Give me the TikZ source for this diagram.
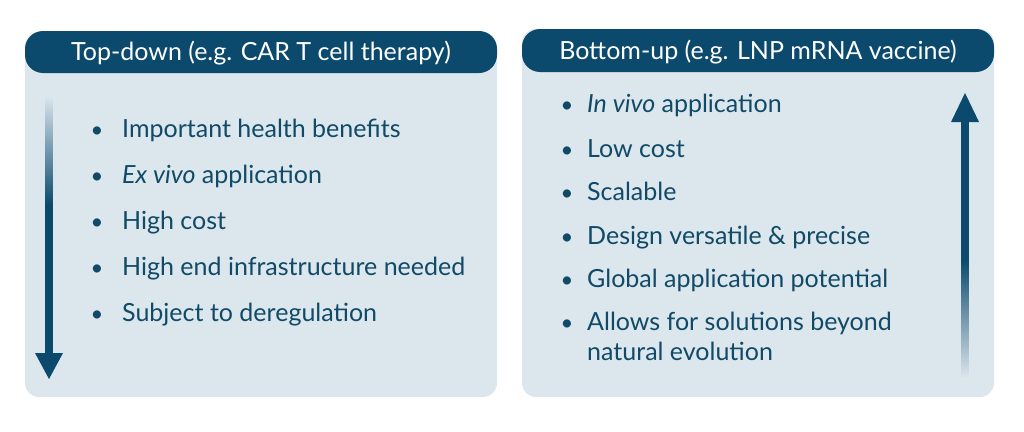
\documentclass[tikz,border=0pt]{standalone}
\usepackage{fontspec}
\setmainfont{Lato}
\definecolor{dark}{HTML}{0B4A6D}
\definecolor{panel}{HTML}{DCE6ED}
\definecolor{txt}{HTML}{104A66}
\pgfdeclareverticalshading{fadedown}{100bp}{color(0bp)=(dark); color(54bp)=(dark); color(75bp)=(panel); color(100bp)=(panel)}
\pgfdeclareverticalshading{fadeup}{100bp}{color(0bp)=(panel); color(25bp)=(panel); color(48bp)=(dark); color(100bp)=(dark)}
\begin{document}
\begin{tikzpicture}[x=1pt,y=-1pt,
  panelbox/.style={fill=panel,rounded corners=14pt,minimum width=472pt,inner sep=0pt},
  headbox/.style={fill=dark,rounded corners=18pt,minimum width=472pt,minimum height=42pt,inner sep=0pt},
  headtxt/.style={anchor=base,inner sep=0pt,text=white,font=\fontsize{25}{29}\selectfont},
  item/.style={anchor=base west,inner sep=0pt,text=txt,font=\fontsize{25}{29}\selectfont},
  bul/.style={anchor=base,inner sep=0pt,text=txt,font=\fontsize{22}{26}\selectfont}]
\useasboundingbox (0,0) rectangle (1024,431);
% left panel
\node[panelbox,minimum height=365pt] (lp) at (261,214.5) {};
\node[headbox] (lh) at (261,52) {};
\node[headtxt] (lht) at (261,60.5) {Top-down (e.g. CAR T cell therapy)};
\shade[shading=fadedown] (45.7,96) rectangle (52.7,354);
\fill[dark] (35,353) -- (63,353) -- (49,379) -- cycle;
\foreach \y/\t [count=\i] in {137/Important health benefits,183/{\itshape Ex vivo}\ application,229/High cost,275/High end infrastructure needed,321/Subject to deregulation}{
  \node[bul] (lb\i) at (97,\y) {•};
  \node[item] (lt\i) at (122,\y) {\t};
}
% right panel
\node[panelbox,minimum height=368pt] (rp) at (758,213) {};
\node[headbox,minimum height=43pt] (rh) at (758,50.5) {};
\node[headtxt] (rht) at (758,59.5) {Bottom-up (e.g. LNP mRNA vaccine)};
\shade[shading=fadeup] (961.5,120) rectangle (968.5,378);
\fill[dark] (951,122) -- (979,122) -- (965,93) -- cycle;
\foreach \y/\t [count=\i] in {112.5/{\itshape In vivo}\ application,157.5/Low cost,200.5/Scalable,244.5/Design versatile \& precise,287.5/Global application potential,330.5/Allows for solutions beyond}{
  \node[bul] (rb\i) at (567,\y) {•};
  \node[item] (rt\i) at (587,\y) {\t};
}
\node[item] (rt7) at (587,360.5) {natural evolution};
\end{tikzpicture}
\end{document}
